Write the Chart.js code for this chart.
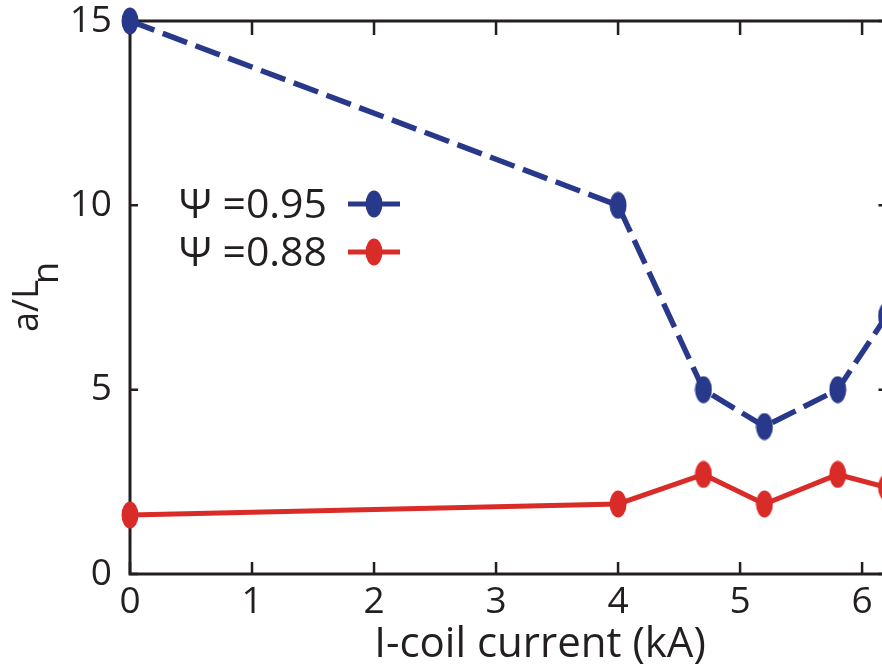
<!DOCTYPE html>
<html>
<head>
<meta charset="utf-8">
<script src="https://cdn.jsdelivr.net/npm/chart.js@4.4.1/dist/chart.umd.min.js"></script>
<style>
  html, body { margin: 0; padding: 0; background: #fff; overflow: hidden; width: 882px; height: 667px; }
  #wrap { width: 902px; height: 667px; position: relative; }
</style>
</head>
<body>
<div id="wrap"><canvas id="c" width="902" height="667"></canvas></div>
<script>
// ---- data ----
const coilCurrent = [0, 4, 4.7, 5.2, 5.8, 6.2];
const psi095 = [15, 10, 5, 4, 5, 7];
const psi088 = [1.6, 1.9, 2.7, 1.9, 2.7, 2.35];
const seriesLabels = ['\u03A8 =0.95', '\u03A8 =0.88'];
const xTicks = [0, 1, 2, 3, 4, 5, 6];
const yTicks = [0, 5, 10, 15];
const xTitle = 'I-coil current (kA)';
const yTitleMain = 'a/L';
const yTitleSub = 'n';

const BLUE = '#28398b';
const RED = '#d92b27';
const AXIS = '#231f20';
const FONT = '"Open Sans", "DejaVu Sans", sans-serif';

function ellipseMarker(color) {
  const w = 18, h = 28;
  const cv = document.createElement('canvas');
  cv.width = w; cv.height = h;
  const g = cv.getContext('2d');
  g.fillStyle = color;
  g.beginPath();
  g.ellipse(w / 2, h / 2, w / 2 - 0.5, h / 2 - 0.5, 0, 0, Math.PI * 2);
  g.fill();
  return cv;
}
const blueMarker = ellipseMarker(BLUE);
const redMarker = ellipseMarker(RED);

function noPad(s) {
  s.paddingTop = 0; s.paddingBottom = 0; s.paddingLeft = 0; s.paddingRight = 0;
}

const frame = {
  id: 'frame',
  beforeDatasetsDraw(chart) {
    const { ctx, chartArea: a, scales: { x, y } } = chart;
    ctx.save();
    ctx.strokeStyle = AXIS;
    ctx.lineWidth = 3;
    ctx.strokeRect(a.left, a.top, a.right - a.left, a.bottom - a.top);
    ctx.lineWidth = 2.5;
    ctx.beginPath();
    xTicks.forEach(v => {
      const px = x.getPixelForValue(v);
      ctx.moveTo(px, a.bottom); ctx.lineTo(px, a.bottom - 12);
      ctx.moveTo(px, a.top); ctx.lineTo(px, a.top + 14);
    });
    yTicks.forEach(v => {
      const py = y.getPixelForValue(v);
      ctx.moveTo(a.left, py); ctx.lineTo(a.left + 8, py);
      ctx.moveTo(a.right, py); ctx.lineTo(a.right - 8, py);
    });
    ctx.stroke();
    ctx.restore();
  },
  afterDraw(chart) {
    const { ctx } = chart;
    ctx.save();
    ctx.fillStyle = AXIS;
    // x title
    ctx.font = '42px ' + FONT;
    ctx.textAlign = 'center';
    ctx.textBaseline = 'alphabetic';
    ctx.fillText(xTitle, 540, 657);
    // y title with subscript
    ctx.translate(38, 332);
    ctx.rotate(-Math.PI / 2);
    ctx.font = '36px ' + FONT;
    ctx.textAlign = 'left';
    ctx.fillText(yTitleMain, 0, 0);
    const w = ctx.measureText(yTitleMain).width;
    ctx.fillText(yTitleSub, w - 4, 20);
    ctx.restore();

    // legend
    const entries = [
      { label: seriesLabels[0], color: BLUE, marker: blueMarker, y: 204 },
      { label: seriesLabels[1], color: RED, marker: redMarker, y: 252 }
    ];
    ctx.save();
    ctx.font = '41px ' + FONT;
    ctx.textAlign = 'right';
    ctx.textBaseline = 'middle';
    entries.forEach(e => {
      ctx.fillStyle = AXIS;
      ctx.fillText(e.label, 327, e.y + 2);
      ctx.strokeStyle = e.color;
      ctx.lineWidth = 5;
      ctx.beginPath();
      ctx.moveTo(348, e.y); ctx.lineTo(400, e.y);
      ctx.stroke();
      ctx.drawImage(e.marker, 374 - e.marker.width / 2, e.y - e.marker.height / 2);
    });
    ctx.restore();
  }
};

new Chart(document.getElementById('c'), {
  type: 'line',
  data: {
    datasets: [
      {
        label: seriesLabels[0],
        data: coilCurrent.map((v, i) => ({ x: v, y: psi095[i] })),
        borderColor: BLUE,
        backgroundColor: BLUE,
        borderWidth: 5.5,
        borderDash: [26, 9],
        pointStyle: blueMarker,
        pointRadius: 10,
        clip: false,
        tension: 0
      },
      {
        label: seriesLabels[1],
        data: coilCurrent.map((v, i) => ({ x: v, y: psi088[i] })),
        borderColor: RED,
        backgroundColor: RED,
        borderWidth: 5,
        pointStyle: redMarker,
        pointRadius: 10,
        clip: false,
        tension: 0
      }
    ]
  },
  options: {
    responsive: false,
    animation: false,
    events: [],
    layout: { padding: { left: 0, top: 21, right: 4, bottom: 0 } },
    plugins: { legend: { display: false }, tooltip: { enabled: false } },
    scales: {
      x: {
        type: 'linear',
        min: 0, max: 6.2,
        grid: { display: false, drawTicks: false },
        border: { display: false },
        ticks: {
          stepSize: 1,
          includeBounds: false,
          color: AXIS,
          padding: 6,
          maxRotation: 0,
          font: { family: FONT, size: 37 }
        },
        afterFit(s) { s.height = 93; noPad(s); }
      },
      y: {
        type: 'linear',
        min: 0, max: 15,
        grid: { display: false, drawTicks: false },
        border: { display: false },
        ticks: {
          stepSize: 5,
          color: AXIS,
          padding: 18,
          font: { family: FONT, size: 37 }
        },
        afterFit(s) { s.width = 130; noPad(s); }
      }
    }
  },
  plugins: [frame]
});
</script>
</body>
</html>
